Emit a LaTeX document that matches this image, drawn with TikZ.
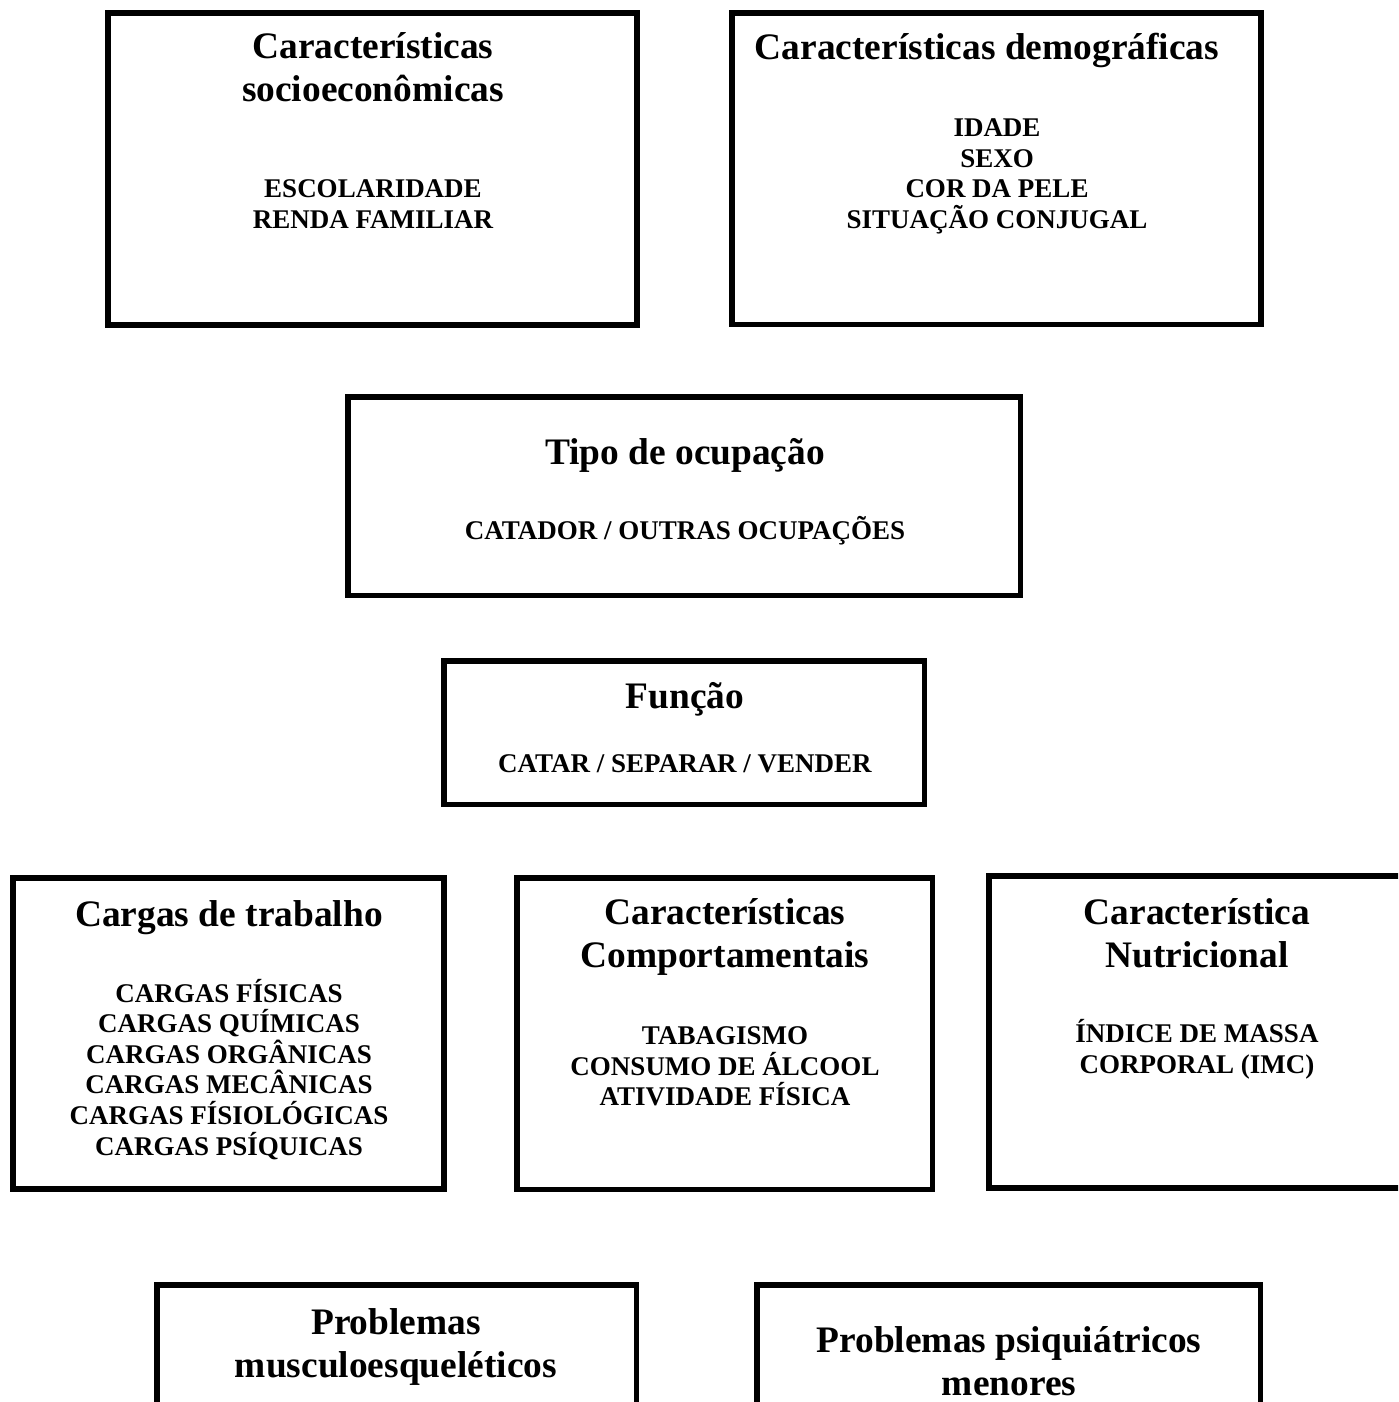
\documentclass[tikz,border=0pt]{standalone}
\usepackage{fontspec}
\setmainfont{Liberation Serif}
\begin{document}
\begin{tikzpicture}[x=1pt,y=-1pt,
  box/.style={draw=black, line width=5.5pt, inner sep=0pt, outer sep=0pt, rectangle},
  ttl/.style={anchor=base, inner sep=0pt, font=\fontsize{37.4}{43}\selectfont\bfseries},
  itm/.style={anchor=base, inner sep=0pt, font=\fontsize{27}{31}\selectfont\bfseries}]
\useasboundingbox (0,0) rectangle (1398,1402);
\clip (0,0) rectangle (1398,1402);
% boxes
\node[box, minimum width=529pt, minimum height=312pt] (b1) at (372.5,169) {};
\node[box, minimum width=529pt, minimum height=311.5pt] (b2) at (996.5,168.75) {};
\node[box, minimum width=672.5pt, minimum height=198.5pt] (b3) at (684.25,496.25) {};
\node[box, minimum width=480.5pt, minimum height=143.5pt] (b4) at (684.25,732.75) {};
\node[box, minimum width=431pt, minimum height=311pt] (b5) at (228.5,1033.5) {};
\node[box, minimum width=415.5pt, minimum height=311.5pt] (b6) at (724.75,1033.75) {};
\node[box, minimum width=431pt, minimum height=312pt] (b7) at (1204.5,1032) {};
\node[box, minimum width=479.5pt, minimum height=215pt] (b8) at (396.75,1392.5) {};
\node[box, minimum width=503.5pt, minimum height=215pt] (b9) at (1008.75,1392.5) {};
% box 1
\node[ttl] (t1a) at (373,59) {Características};
\node[ttl] (t1b) at (373,102) {socioeconômicas};
\node[itm] (i1a) at (373,197) {ESCOLARIDADE};
\node[itm] (i1b) at (373,228) {RENDA FAMILIAR};
% box 2
\node[ttl] (t2a) at (987,60) {Características demográficas};
\node[itm] (i2a) at (997,136) {IDADE};
\node[itm] (i2b) at (997,167) {SEXO};
\node[itm] (i2c) at (997,197) {COR DA PELE};
\node[itm] (i2d) at (997,228) {SITUAÇÃO CONJUGAL};
% box 3
\node[ttl] (t3a) at (685,464) {Tipo de ocupação};
\node[itm] (i3a) at (685,539) {CATADOR / OUTRAS OCUPAÇÕES};
% box 4
\node[ttl] (t4a) at (685,708) {Função};
\node[itm] (i4a) at (685,772) {CATAR / SEPARAR / VENDER};
% box 5
\node[ttl] (t5a) at (229,926) {Cargas de trabalho};
\node[itm] (i5a) at (229,1002) {CARGAS FÍSICAS};
\node[itm] (i5b) at (229,1032.6) {CARGAS QUÍMICAS};
\node[itm] (i5c) at (229,1063.2) {CARGAS ORGÂNICAS};
\node[itm] (i5d) at (229,1093.8) {CARGAS MECÂNICAS};
\node[itm] (i5e) at (229,1124.4) {CARGAS FÍSIOLÓGICAS};
\node[itm] (i5f) at (229,1155) {CARGAS PSÍQUICAS};
% box 6
\node[ttl] (t6a) at (725,924) {Características};
\node[ttl] (t6b) at (725,967) {Comportamentais};
\node[itm] (i6a) at (725,1044) {TABAGISMO};
\node[itm] (i6b) at (725,1075) {CONSUMO DE ÁLCOOL};
\node[itm] (i6c) at (725,1105) {ATIVIDADE FÍSICA};
% box 7
\node[ttl] (t7a) at (1197,924) {Característica};
\node[ttl] (t7b) at (1197,967) {Nutricional};
\node[itm] (i7a) at (1197,1042) {ÍNDICE DE MASSA};
\node[itm] (i7b) at (1197,1073) {CORPORAL (IMC)};
% box 8
\node[ttl] (t8a) at (396,1334) {Problemas};
\node[ttl] (t8b) at (396,1377) {musculoesqueléticos};
% box 9
\node[ttl] (t9a) at (1009,1352) {Problemas psiquiátricos};
\node[ttl] (t9b) at (1009,1395) {menores};
\end{tikzpicture}
\end{document}
